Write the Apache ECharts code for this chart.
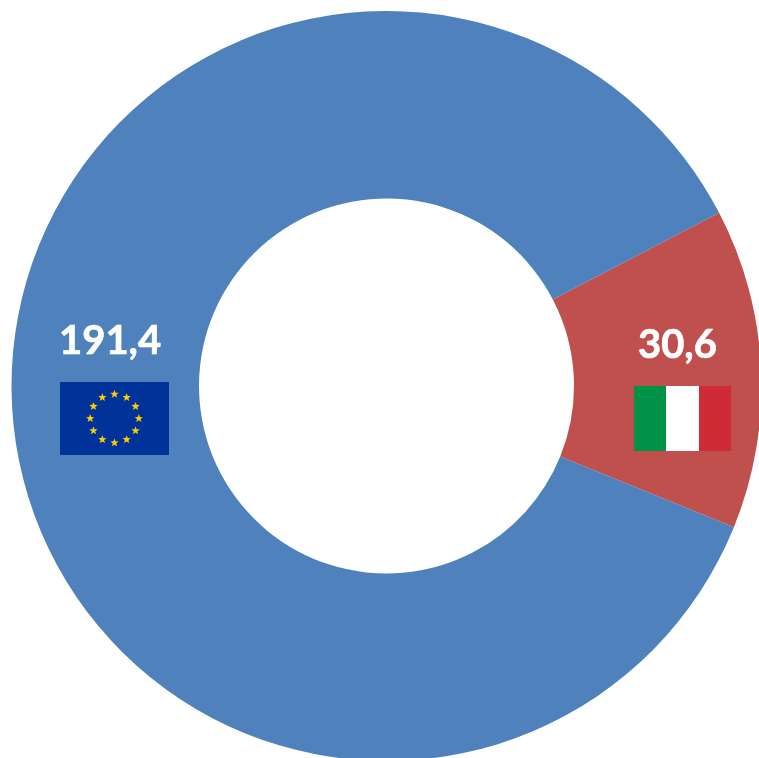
<!DOCTYPE html>
<html>
<head>
<meta charset="utf-8">
<style>html,body{margin:0;padding:0;background:#fff}#c{width:759px;height:758px}</style>
<script src="https://cdn.jsdelivr.net/npm/echarts@6/dist/echarts.min.js"></script>
</head>
<body>
<div id="c"></div>
<script>
const categories = ['Italia', 'UE'];
const values = [30.6, 191.4];
const colors = ['#C0504D', '#4F81BD'];

function fmt(v){ return v.toFixed(1).replace('.', ','); }

function starPoints(cx, cy, R){
  const pts = [];
  for (let i = 0; i < 10; i++){
    const r = i % 2 ? R * 0.42 : R;
    const a = -Math.PI / 2 + i * Math.PI / 5;
    pts.push([cx + r * Math.cos(a), cy + r * Math.sin(a)]);
  }
  return pts;
}
const euStars = [];
for (let i = 0; i < 12; i++){
  const a = i * Math.PI / 6;
  euStars.push({
    type: 'polygon', z: 12,
    shape: { points: starPoints(114.5 + 24.3 * Math.cos(a), 418.5 + 24.3 * Math.sin(a), 4.4) },
    style: { fill: '#FFCC00' }, silent: true
  });
}
const rect = (x, y, w, h, fill) => ({ type: 'rect', z: 11, shape: { x, y, width: w, height: h }, style: { fill }, silent: true });

const chart = echarts.init(document.getElementById('c'), null, { renderer: 'canvas' });
chart.setOption({
  animation: false,
  backgroundColor: '#ffffff',
  graphic: [
    rect(60, 382, 109, 73, '#003399'),
    ...euStars,
    rect(634, 386, 33, 65, '#009246'),
    rect(666, 386, 33, 65, '#FFFFFF'),
    rect(699, 386, 32, 65, '#CE2B37')
  ],
  series: [{
    type: 'pie',
    center: [386.5, 386],
    radius: [187.5, 375],
    startAngle: 27.5,
    clockwise: true,
    silent: true,
    itemStyle: { borderWidth: 0 },
    labelLine: { show: false },
    data: categories.map((name, i) => ({
      name, value: values[i],
      itemStyle: { color: colors[i] },
      label: {
        show: true,
        position: 'inside',
        formatter: () => fmt(values[i]),
        color: '#ffffff',
        fontFamily: 'Lato',
        fontWeight: 'bold',
        fontSize: 40,
        textBorderColor: '#ffffff',
        textBorderWidth: 0.7,
        offset: i === 0 ? [7, -27.5] : [7.5, -58.5]
      }
    }))
  }]
});
</script>
</body>
</html>
